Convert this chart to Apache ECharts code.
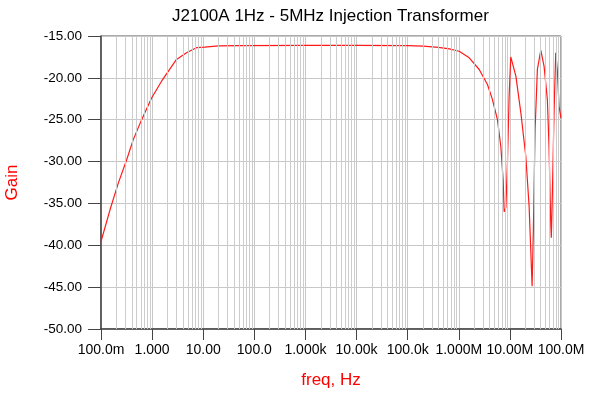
<!DOCTYPE html>
<html><head><meta charset="utf-8">
<script src="https://cdn.jsdelivr.net/npm/echarts@6/dist/echarts.min.js"></script>
<style>html,body{margin:0;padding:0;background:#fff}#c{width:600px;height:399px}</style>
</head><body><div id="c"></div>
<script>
// Frequency (Hz) and gain (dB)
const freqHz = [0.1, 0.15, 0.218, 0.318, 0.428, 0.624, 0.977, 1.53, 3.0, 4.71, 7.38, 10.7, 20, 51.8,
  1e3, 1e4, 1e5, 2e5, 4e5, 6.52e5, 1.02e6, 1.60e6, 2.51e6, 3.64e6, 4.56e6, 5.71e6, 6.65e6, 7.38e6,
  7.73e6, 8.34e6, 8.95e6, 9.66e6, 1.04e7, 1.12e7, 1.31e7, 1.64e7, 2.05e7, 2.38e7, 2.56e7, 2.72e7,
  2.88e7, 3.11e7, 3.45e7, 4.02e7, 4.66e7, 5.41e7, 5.83e7, 6.30e7, 6.47e7, 6.76e7, 7.31e7, 7.89e7,
  8.47e7, 9.16e7, 1e8];
const gainDb = [-39.55, -35.76, -32.57, -29.78, -27.38, -24.99, -22.4, -20.4, -17.8, -17.0, -16.4, -16.34, -16.18, -16.14,
  -16.12, -16.12, -16.14, -16.22, -16.35, -16.53, -16.82, -17.6, -19.0, -20.8, -22.6, -25.0, -28.2, -32.2,
  -36.0, -35.5, -30.2, -22.2, -17.5, -17.5, -19.8, -24.2, -29.4, -35.4, -40.5, -44.9,
  -38.2, -26.2, -19.0, -16.7, -18.6, -22.6, -28.2, -37.4, -39.1, -34.2, -24.2, -17.0,
  -19.0, -23.4, -24.8];
const xTickLabels = ['100.0m', '1.000', '10.00', '100.0', '1.000k', '10.00k', '100.0k', '1.000M', '10.00M', '100.0M'];
const decadeStarts = [0.1, 1, 10, 100, 1e3, 1e4, 1e5, 1e6, 1e7];
const minorMultipliers = [2, 3, 4, 5, 6, 7, 8, 9];

const minorGrid = [];
decadeStarts.forEach(d => minorMultipliers.forEach(m => minorGrid.push({ xAxis: d * m })));

const chart = echarts.init(document.getElementById('c'), null, { renderer: 'canvas' });
const font = 'Liberation Sans, Arial, sans-serif';
chart.setOption({
  animation: false,
  backgroundColor: '#fff',
  title: {
    text: 'J2100A 1Hz - 5MHz Injection Transformer',
    left: 167, top: 3,
    textStyle: { fontFamily: font, fontSize: 17, fontWeight: 'normal', color: '#000' }
  },
  grid: { left: 101, right: 39, top: 36, bottom: 70, show: true, borderColor: '#555', borderWidth: 1,
    outerBoundsMode: 'none', containLabel: false },
  xAxis: {
    type: 'log', logBase: 10, min: 0.1, max: 1e8, interval: 1,
    name: 'freq, Hz', nameLocation: 'middle', nameGap: 43,
    nameTextStyle: { color: '#ff0000', fontSize: 17, fontFamily: font },
    axisLine: { show: true, lineStyle: { color: '#444', width: 1.5 } },
    axisTick: { show: true, length: 11, lineStyle: { color: '#444', width: 1 } },
    axisLabel: {
      margin: 14, color: '#000', fontSize: 14, fontFamily: font,
      formatter: v => xTickLabels[Math.round(Math.log10(v)) + 1]
    },
    splitLine: { show: true, lineStyle: { color: '#c8c8c8', width: 1 } }
  },
  yAxis: {
    type: 'value', min: -50, max: -15, interval: 5,
    name: 'Gain', nameLocation: 'middle', nameGap: 80,
    nameTextStyle: { color: '#ff0000', fontSize: 17, fontFamily: font },
    axisLine: { show: true, lineStyle: { color: '#444', width: 1.5 } },
    axisTick: { show: true, length: 13, lineStyle: { color: '#444', width: 1 } },
    axisLabel: { margin: 19, color: '#000', fontSize: 13.5, fontFamily: font, formatter: v => v.toFixed(2) },
    splitLine: { show: true, lineStyle: { color: '#c8c8c8', width: 1 } }
  },
  series: [
    {
      type: 'line', data: [], z: 1, silent: true,
      markLine: {
        silent: true, symbol: ['none', 'none'], label: { show: false },
        lineStyle: { color: '#cccccc', width: 1, type: 'solid' },
        emphasis: { disabled: true },
        data: minorGrid
      }
    },
    {
      type: 'line', z: 3, showSymbol: false, smooth: false,
      data: freqHz.map((f, i) => [f, gainDb[i]]),
      lineStyle: { color: '#ff1a1a', width: 1.2 }
    }
  ]
});
</script></body></html>
